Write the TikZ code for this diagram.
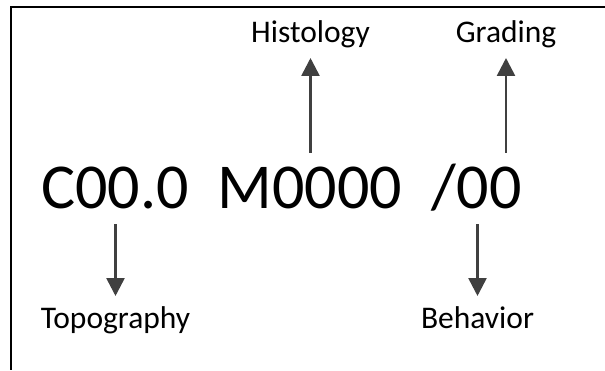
\documentclass[tikz,border=0pt]{standalone}
\usepackage{fontspec}
\setmainfont{Carlito}
\usetikzlibrary{arrows.meta}
\tikzset{
  code/.style={inner sep=0pt, anchor=base, font=\fontsize{64}{70}\selectfont},
  codepart/.style={inner sep=0pt, anchor=base west, font=\fontsize{64}{70}\selectfont},
  lbl/.style={inner sep=0pt, anchor=base, font=\fontsize{31.5}{36}\selectfont},
  arr/.style={draw=black!75, line width=2.6pt,
    -{Triangle[width=18pt,length=18pt]}},
  frame/.style={draw=black, line width=2pt}
}
\begin{document}
\begin{tikzpicture}[x=1pt,y=1pt]
  \useasboundingbox (0,0) rectangle (605,370);
  % open frame: top and left edges
  \draw[frame] (605,363) -- (11,363) -- (11,0);

  % the code C00.0  M0000  /00
  \node[code] (topo) at (115,161) {C00.0};
  \node[code] (hist) at (310,161) {M0000};
  \node[codepart] (slash) at (431,161) {/};
  \node[codepart] (beh) at (slash.base east) {0};
  \node[codepart] (grd) at (beh.base east) {0};

  % labels
  \node[lbl] (histlbl) at (310.5,327) {Histology};
  \node[lbl] (grdlbl) at (506,327) {Grading};
  \node[lbl] (topolbl) at (115.5,42) {Topography};
  \node[lbl] (behlbl) at (477.5,42) {Behavior};

  % arrows
  \draw[arr, shorten <=56pt, shorten >=15pt] (hist.base -| histlbl.base) -- (histlbl.base);
  \draw[arr, shorten <=56pt, shorten >=15pt] (grd.base -| grdlbl.base) -- (grdlbl.base);
  \draw[arr, shorten <=15pt, shorten >=32pt] (topo.base -| topolbl.base) -- (topolbl.base);
  \draw[arr, shorten <=15pt, shorten >=32pt] (beh.base -| behlbl.base) -- (behlbl.base);
\end{tikzpicture}
\end{document}
